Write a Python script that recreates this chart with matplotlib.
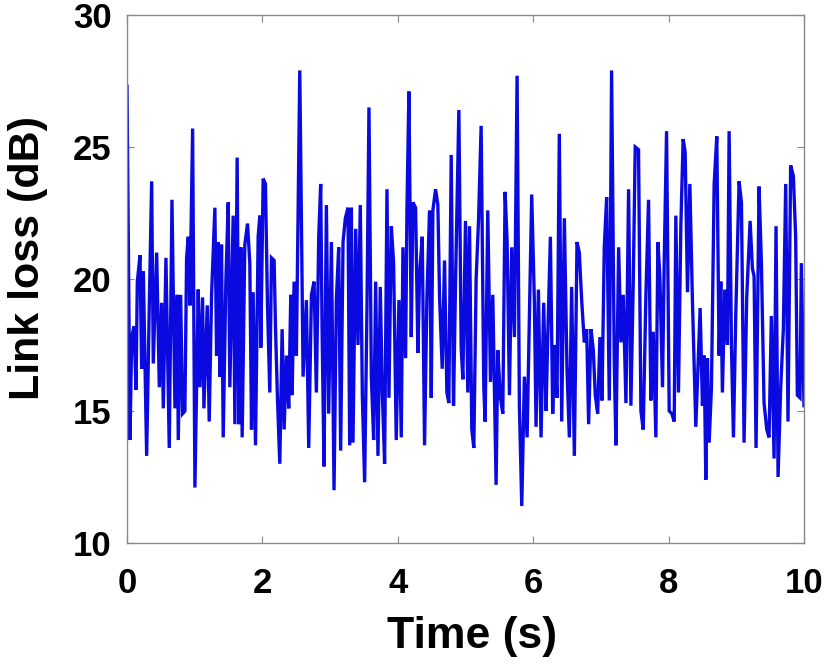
import numpy as np
import matplotlib.pyplot as plt

plt.rcParams['font.family'] = ['Liberation Sans', 'DejaVu Sans']

# time samples (s) and link loss (dB)
t1 = [0.00, 0.044, 0.069, 0.103, 0.133, 0.152, 0.192, 0.216, 0.241, 0.290,
      0.329, 0.364, 0.388, 0.438, 0.477, 0.511, 0.536, 0.575, 0.624, 0.664,
      0.708, 0.742, 0.757, 0.792, 0.821, 0.855, 0.880, 0.905, 0.929, 0.969,
      1.003, 1.052, 1.077, 1.116, 1.136, 1.185, 1.214, 1.249, 1.298, 1.323,
      1.347, 1.372, 1.396, 1.421, 1.460, 1.495, 1.519, 1.568, 1.593, 1.627]
v1 = [27.3, 13.9, 17.8, 18.2, 15.8, 19.9, 20.9, 16.6, 20.3, 13.3,
      19.0, 23.7, 16.8, 21.0, 15.9, 19.1, 15.1, 20.8, 13.6, 23.0,
      15.1, 19.4, 13.9, 19.4, 14.9, 15.0, 20.8, 21.6, 19.0, 25.7,
      12.1, 19.6, 15.9, 19.3, 15.1, 19.0, 14.6, 19.4, 22.7, 17.1,
      21.4, 16.3, 21.3, 14.0, 19.9, 22.9, 15.9, 22.4, 14.5, 24.6]

t2 = [1.652, 1.681, 1.701, 1.740, 1.780, 1.814, 1.839, 1.863, 1.898, 1.937,
      1.962, 1.976, 2.011, 2.045, 2.075, 2.109, 2.134, 2.173, 2.193, 2.222,
      2.257, 2.291, 2.321, 2.355, 2.389, 2.419, 2.439, 2.468, 2.502, 2.552,
      2.601, 2.650, 2.684, 2.724, 2.763, 2.797, 2.832, 2.861, 2.881, 2.910,
      2.945, 2.979, 3.019, 3.058, 3.092, 3.127, 3.156, 3.191, 3.225, 3.264,
      3.289]
v2 = [14.5, 21.2, 14.0, 21.3, 22.1, 20.6, 14.3, 19.5, 13.7, 21.6,
      22.4, 17.4, 23.8, 23.6, 19.0, 15.7, 20.8, 20.7, 18.2, 15.5,
      13.0, 18.1, 14.3, 17.1, 15.1, 19.4, 15.6, 19.9, 17.1, 27.9,
      16.3, 19.2, 13.6, 19.4, 19.9, 15.7, 21.6, 23.6, 18.2, 12.9,
      22.8, 14.9, 21.4, 12.0, 19.2, 21.2, 13.5, 21.4, 22.3, 22.7,
      13.7]

t3 = [3.314, 3.338, 3.378, 3.412, 3.446, 3.476, 3.510, 3.545, 3.574, 3.609,
      3.643, 3.673, 3.707, 3.741, 3.771, 3.805, 3.840, 3.869, 3.904, 3.938,
      3.977, 4.017, 4.051, 4.076, 4.115, 4.135, 4.164, 4.199, 4.223, 4.263,
      4.297, 4.322, 4.361, 4.395, 4.430, 4.469, 4.494, 4.518, 4.558, 4.592,
      4.617, 4.656, 4.690, 4.725, 4.754, 4.789, 4.823, 4.853, 4.902, 4.936,
      4.961, 5.000, 5.034]
v3 = [22.7, 13.8, 21.9, 17.5, 22.8, 15.6, 12.3, 19.0, 26.5, 16.3,
      13.9, 19.9, 13.3, 19.7, 15.7, 13.0, 23.4, 15.5, 22.0, 20.6,
      13.9, 19.2, 14.0, 21.2, 17.0, 22.6, 27.1, 17.8, 22.9, 22.7,
      17.2, 20.2, 21.6, 13.7, 19.3, 22.6, 15.5, 22.6, 23.4, 22.8,
      19.3, 16.6, 20.7, 15.7, 15.3, 24.7, 15.2, 19.9, 26.4, 17.4,
      16.2, 22.2, 15.7]

t4 = [5.059, 5.093, 5.123, 5.157, 5.192, 5.231, 5.270, 5.290, 5.329, 5.369,
      5.403, 5.452, 5.477, 5.516, 5.551, 5.585, 5.615, 5.649, 5.683, 5.723,
      5.762, 5.796, 5.831, 5.870, 5.910, 5.944, 5.978, 6.018, 6.042, 6.077,
      6.116, 6.155, 6.190, 6.214, 6.254, 6.288, 6.313, 6.352, 6.386, 6.421,
      6.460, 6.499, 6.534, 6.568, 6.608, 6.647, 6.681, 6.716]
v4 = [22.0, 14.3, 13.6, 20.0, 22.2, 25.8, 15.9, 14.6, 22.6, 16.1,
      19.4, 12.2, 17.3, 15.5, 14.9, 23.3, 21.4, 15.6, 21.2, 17.8,
      27.7, 15.2, 11.4, 16.3, 14.0, 18.6, 23.2, 19.1, 14.4, 19.6,
      14.0, 19.1, 15.0, 17.7, 21.6, 14.9, 17.5, 15.5, 25.5, 14.6,
      22.3, 16.6, 14.0, 19.7, 13.3, 21.4, 21.0, 19.2]

t5 = [6.755, 6.790, 6.819, 6.854, 6.888, 6.917, 6.952, 6.986, 7.016, 7.050,
      7.085, 7.124, 7.158, 7.198, 7.222, 7.262, 7.296, 7.330, 7.370, 7.409,
      7.443, 7.478, 7.507, 7.556, 7.591, 7.625, 7.665, 7.704, 7.738, 7.773,
      7.812, 7.842, 7.871, 7.910, 7.935, 7.970, 8.009, 8.048, 8.083, 8.107,
      8.146, 8.181, 8.215, 8.245, 8.279, 8.314, 8.353, 8.402]
v5 = [17.6, 18.1, 14.5, 18.1, 17.3, 15.6, 14.9, 17.8, 15.4, 21.2,
      23.1, 15.4, 27.9, 16.8, 13.7, 21.2, 17.6, 19.4, 15.3, 23.4,
      15.2, 19.9, 25.0, 24.9, 15.0, 14.3, 19.4, 23.0, 15.4, 18.0,
      14.0, 21.4, 20.1, 15.9, 20.6, 25.6, 15.0, 14.9, 14.6, 22.4,
      15.7, 22.0, 25.3, 24.8, 19.5, 23.6, 19.1, 14.4]

t6 = [8.466, 8.500, 8.525, 8.550, 8.574, 8.599, 8.633, 8.673, 8.712, 8.746,
      8.771, 8.795, 8.830, 8.869, 8.894, 8.928, 8.958, 8.992, 9.041, 9.076,
      9.115, 9.154, 9.204, 9.238, 9.263, 9.292, 9.336, 9.371, 9.410, 9.450,
      9.484, 9.518, 9.558, 9.587, 9.617, 9.656, 9.695, 9.730, 9.764, 9.803,
      9.843, 9.877, 9.902, 9.941, 9.961, 10.0]
v6 = [18.9, 15.2, 17.1, 12.4, 17.0, 13.8, 15.9, 23.6, 25.4, 17.1,
      19.9, 15.7, 19.6, 17.5, 25.6, 17.5, 14.0, 18.6, 23.7, 22.9,
      13.8, 19.3, 22.2, 20.4, 20.1, 13.6, 23.5, 20.6, 15.3, 14.3,
      14.0, 18.6, 13.2, 22.0, 12.5, 15.9, 18.1, 23.6, 14.6, 24.3,
      23.9, 21.6, 15.6, 15.5, 20.6, 15.2]

x_ticks = [0, 2, 4, 6, 8, 10]
y_ticks = [10, 15, 20, 25, 30]

t = np.concatenate([t1, t2, t3, t4, t5, t6])
loss = np.concatenate([v1, v2, v3, v4, v5, v6])

fig = plt.figure(figsize=(8.28, 6.66), dpi=100)
ax = fig.add_axes([0.1534, 0.1847, 0.8176, 0.7928])
ax.plot(t, loss, color='#0a0ae0', linewidth=2.4, solid_joinstyle='miter')

ax.set_xlim(0, 10)
ax.set_ylim(10, 30)
ax.set_xticks(x_ticks)
ax.set_yticks(y_ticks)
for s in ax.spines.values():
    s.set_color('#8a8a8a')
    s.set_linewidth(1.0)
ax.tick_params(direction='in', length=5, color='#8a8a8a', labelsize=25,
               top=True, right=True)
ax.tick_params(axis='y', pad=11)
ax.tick_params(axis='x', pad=17)
for lab in ax.get_xticklabels() + ax.get_yticklabels():
    lab.set_fontweight('bold')

ax.set_xlabel('Time (s)', fontsize=32, fontweight='bold')
ax.set_ylabel('Link loss (dB)', fontsize=31, fontweight='bold')
ax.xaxis.set_label_coords(0.509, -0.138)
ax.yaxis.set_label_coords(-0.117, 0.54)

fig.savefig('out.png', dpi=100)
plt.close()
